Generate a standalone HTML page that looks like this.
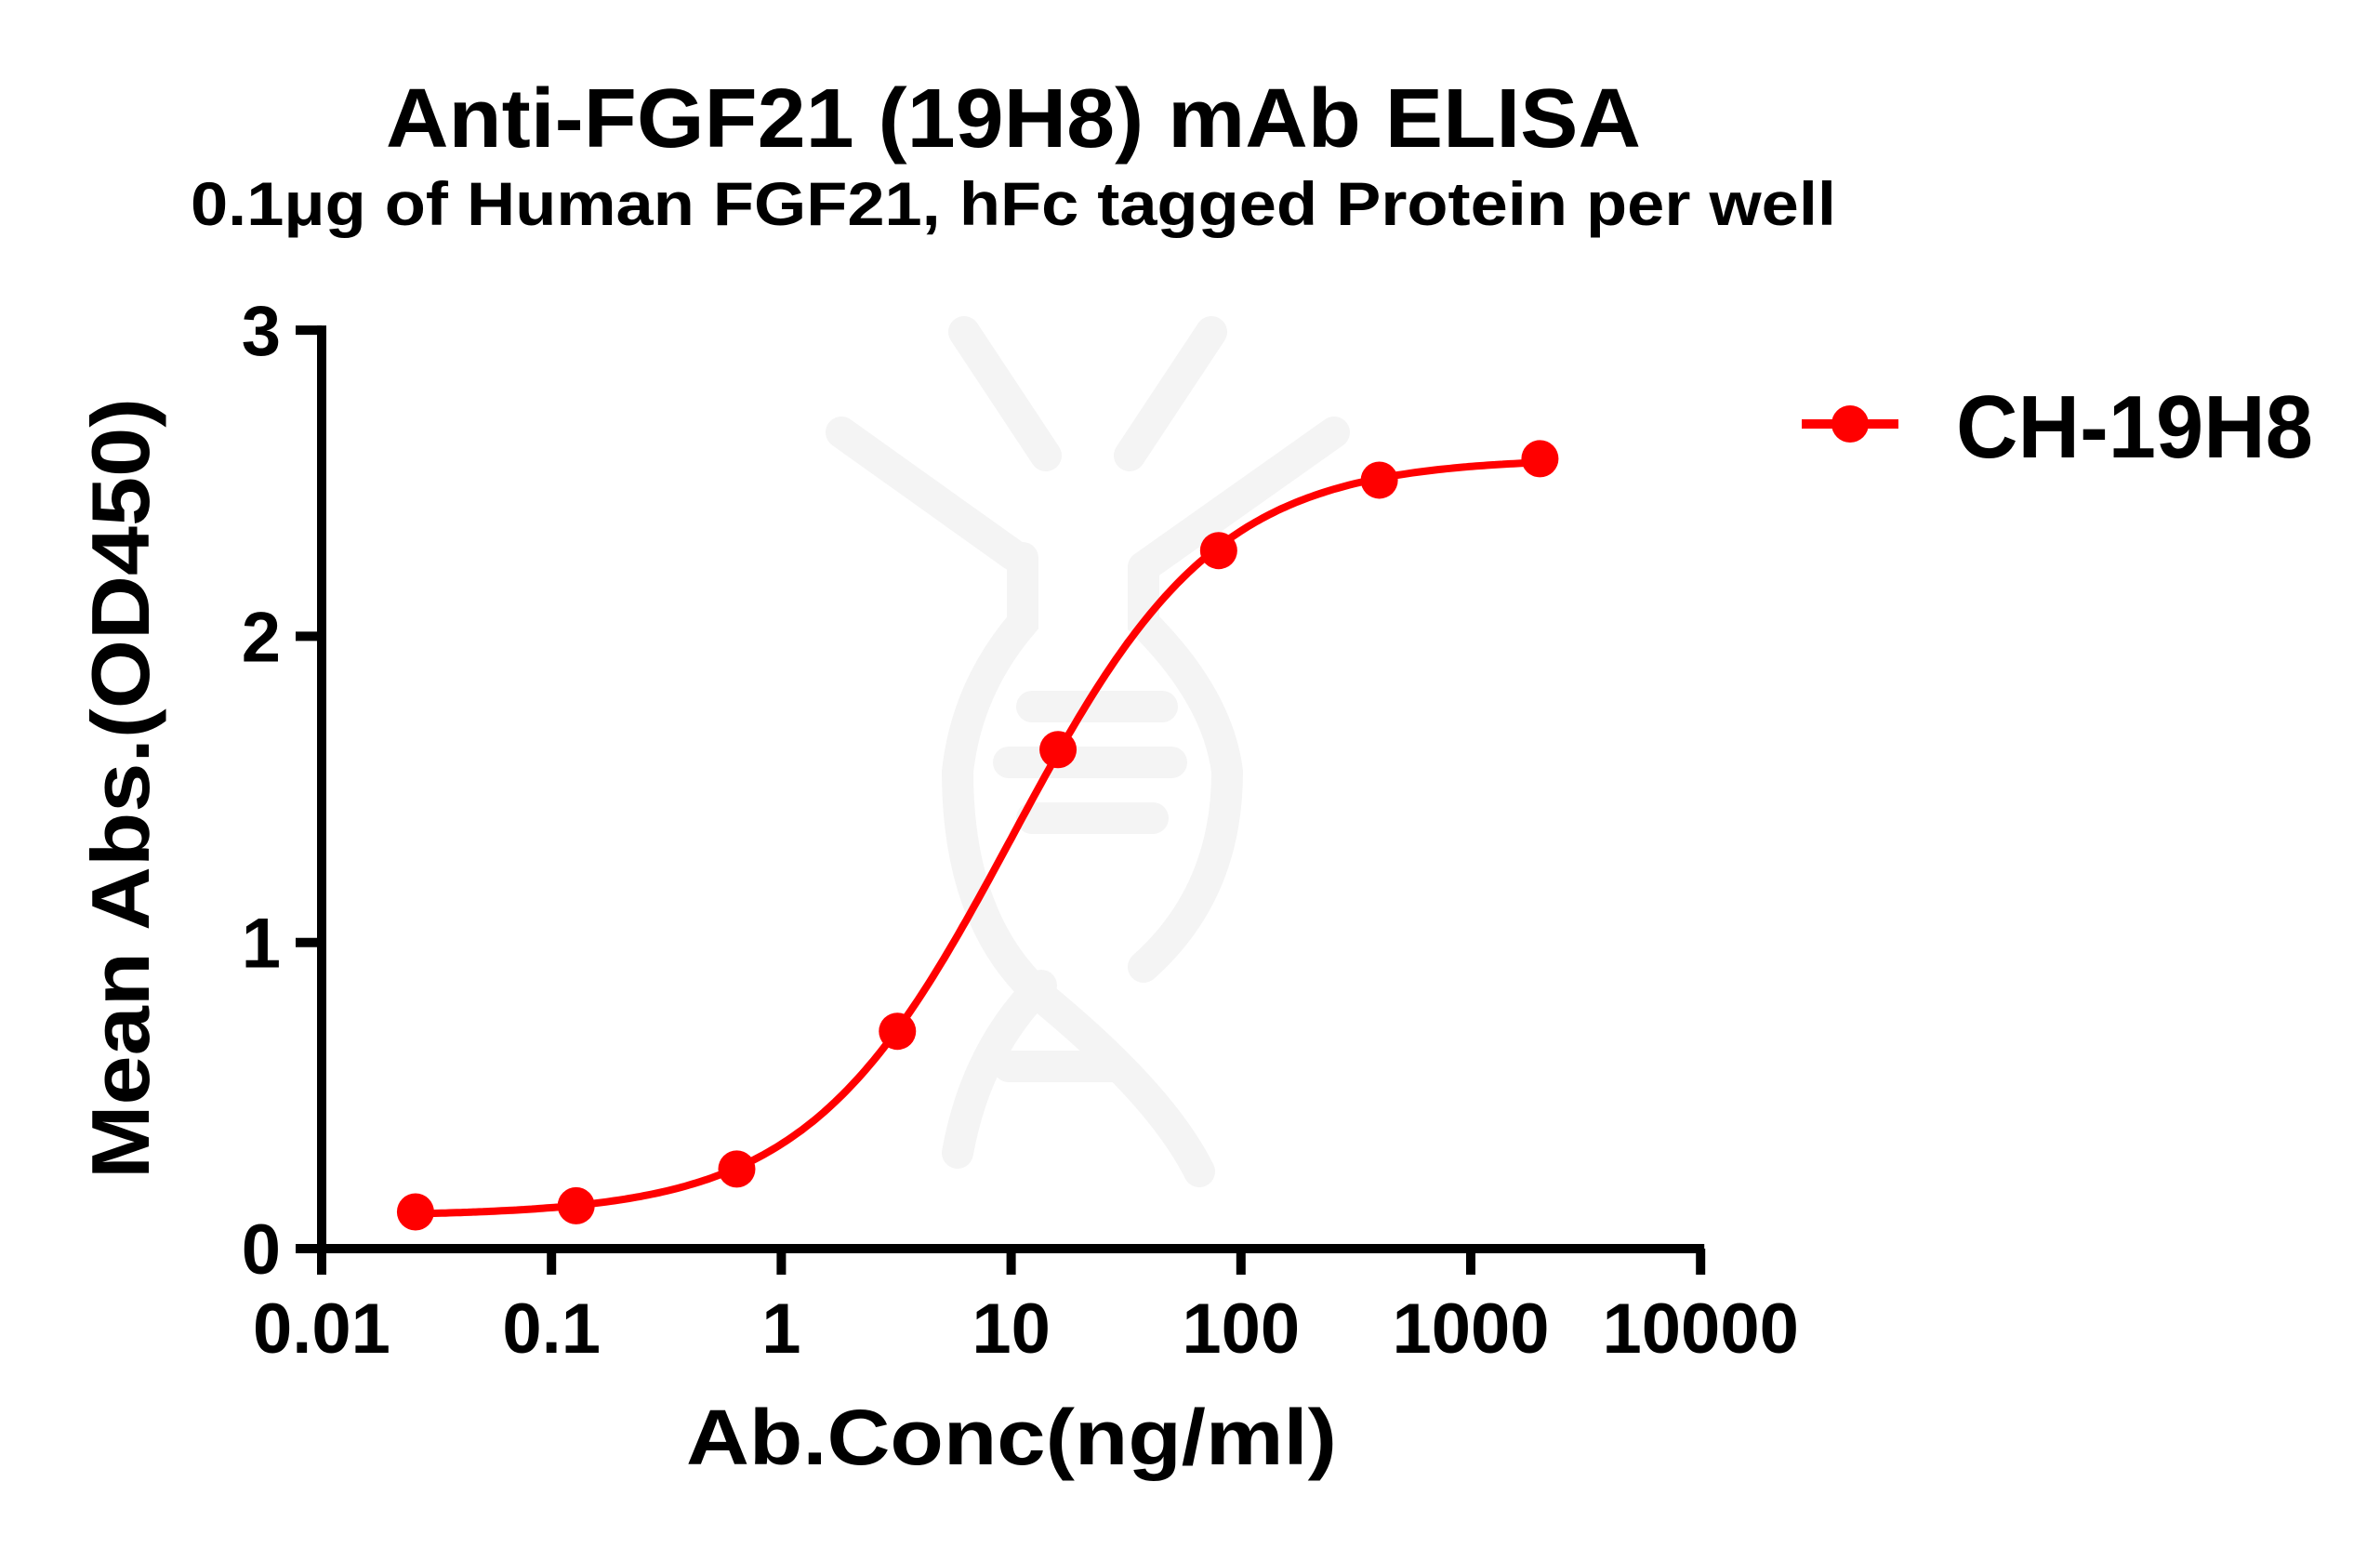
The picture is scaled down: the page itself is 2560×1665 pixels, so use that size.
<!DOCTYPE html>
<html><head><meta charset="utf-8"><title>Anti-FGF21 (19H8) mAb ELISA</title>
<style>html,body{margin:0;padding:0;background:#fff}svg{display:block}text{font-family:"Liberation Sans",Arial,sans-serif;font-weight:bold;fill:#000}</style>
</head><body>
<svg id="chart" width="2560" height="1665" viewBox="0 0 2560 1665" xmlns="http://www.w3.org/2000/svg">
<g stroke="#f4f4f4" stroke-linecap="round" fill="none" stroke-width="34">
<line x1="1037" y1="357" x2="1125" y2="490"/><line x1="1303" y1="357" x2="1215" y2="490"/>
<line x1="905" y1="465" x2="1090" y2="597"/><line x1="1435" y1="465" x2="1230" y2="610"/>
<path d="M1100 600 L1100 670 Q1040 740 1030 830 Q1030 1000 1130 1080 Q1250 1180 1290 1260"/>
<path d="M1230 610 L1230 670 Q1310 750 1320 830 Q1320 960 1230 1040"/>
<path d="M1120 1060 Q1050 1130 1030 1240"/>
<line x1="1110" y1="760" x2="1250" y2="760"/><line x1="1085" y1="820" x2="1260" y2="820"/><line x1="1110" y1="880" x2="1240" y2="880"/><line x1="1085" y1="1147" x2="1200" y2="1147"/>
</g>
<text x="1090" y="158" text-anchor="middle" font-size="90" textLength="1350" lengthAdjust="spacingAndGlyphs">Anti-FGF21 (19H8) mAb ELISA</text>
<text x="1090" y="242" text-anchor="middle" font-size="66" textLength="1770" lengthAdjust="spacingAndGlyphs">0.1μg of Human FGF21, hFc tagged Protein per well</text>
<text transform="translate(160,848) rotate(-90)" text-anchor="middle" font-size="88" textLength="840" lengthAdjust="spacingAndGlyphs">Mean Abs.(OD450)</text>
<text x="1088" y="1575" text-anchor="middle" font-size="84" textLength="700" lengthAdjust="spacingAndGlyphs">Ab.Conc(ng/ml)</text>
<g id="axes"></g><g id="series"></g>
<g>
<line x1="1938" y1="456" x2="2042" y2="456" stroke="#ff0000" stroke-width="10"/>
<circle cx="1990" cy="456" r="20" fill="#ff0000"/>
<text x="2104" y="492" font-size="96" textLength="384" lengthAdjust="spacingAndGlyphs">CH-19H8</text>
</g>
</svg>
<script>
const concs = [0.0256, 0.128, 0.64, 3.2, 16, 80, 400, 2000];
const absValues = [0.12, 0.14, 0.26, 0.71, 1.63, 2.28, 2.51, 2.58];
const xTickValues = [0.01, 0.1, 1, 10, 100, 1000, 10000];
const xTickLabels = ["0.01", "0.1", "1", "10", "100", "1000", "10000"];
const yTickValues = [0, 1, 2, 3];
const yTickLabels = ["0", "1", "2", "3"];
const NS = "http://www.w3.org/2000/svg";
const X0 = 346, DEC = 247.2, Y0 = 1343, UNIT = 329.3;
function xs(v){ return X0 + (Math.log10(v) + 2) * DEC; }
function ys(v){ return Y0 - v * UNIT; }
function mk(tag, attrs, parent){ const e = document.createElementNS(NS, tag); for (const k in attrs) e.setAttribute(k, attrs[k]); parent.appendChild(e); return e; }
const axes = document.getElementById('axes');
const ya = mk('line', {x1:X0, y1:ys(3)-5, x2:X0, y2:Y0+5, stroke:'#000','stroke-width':10}, axes);


const xa = mk('line', {x1:X0-5, y1:Y0, x2:xs(10000)+4, y2:Y0, stroke:'#000','stroke-width':10}, axes);


yTickValues.forEach((v,i) => {
  const t = mk('line', {x1:318, y1:ys(v), x2:X0, y2:ys(v), stroke:'#000','stroke-width':10}, axes);
  
  
  const l = mk('text', {x:302, y:ys(v)+27, 'text-anchor':'end', 'font-size':76}, axes);
  
  
  l.textContent = yTickLabels[i];
});
xTickValues.forEach((v,i) => {
  const t = mk('line', {x1:xs(v), y1:Y0, x2:xs(v), y2:1371, stroke:'#000','stroke-width':10}, axes);
  
  
  const l = mk('text', {x:xs(v), y:1455, 'text-anchor':'middle', 'font-size':76}, axes);
  
  
  l.textContent = xTickLabels[i];
});
function f4(p, x){ return p[0] + (p[1]-p[0]) / (1 + Math.pow(10, (p[2]-Math.log10(x))*p[3])); }
function sse(p){ let s=0; concs.forEach((c,i)=>{ const d=f4(p,c)-absValues[i]; s+=d*d; }); return s; }
let p = [Math.min(...absValues), Math.max(...absValues), 1, 1];
let steps = [0.05, 0.05, 0.2, 0.2];
for (let it=0; it<4000; it++){
  let improved=false;
  for (let k=0;k<4;k++){
    for (const sgn of [1,-1]){
      const q=p.slice(); q[k]+=sgn*steps[k];
      if (sse(q)<sse(p)){ p=q; improved=true; }
    }
  }
  if(!improved){ steps=steps.map(s=>s/2); if (steps[0]<1e-7) break; }
}
const series = document.getElementById('series');
let d = '';
const lo = Math.log10(concs[0]), hi = Math.log10(concs[concs.length-1]);
for (let i=0;i<=300;i++){ const lx = lo + (hi-lo)*i/300; const x = Math.pow(10,lx); d += (i?'L':'M') + xs(x).toFixed(1) + ' ' + ys(f4(p,x)).toFixed(1); }
const curve = mk('path', {d:d, fill:'none', stroke:'#ff0000', 'stroke-width':8}, series);


concs.forEach((c,i) => {
  const pt = mk('circle', {cx:xs(c), cy:ys(absValues[i]), r:20, fill:'#ff0000'}, series);
  
  
});
</script>
</body></html>
